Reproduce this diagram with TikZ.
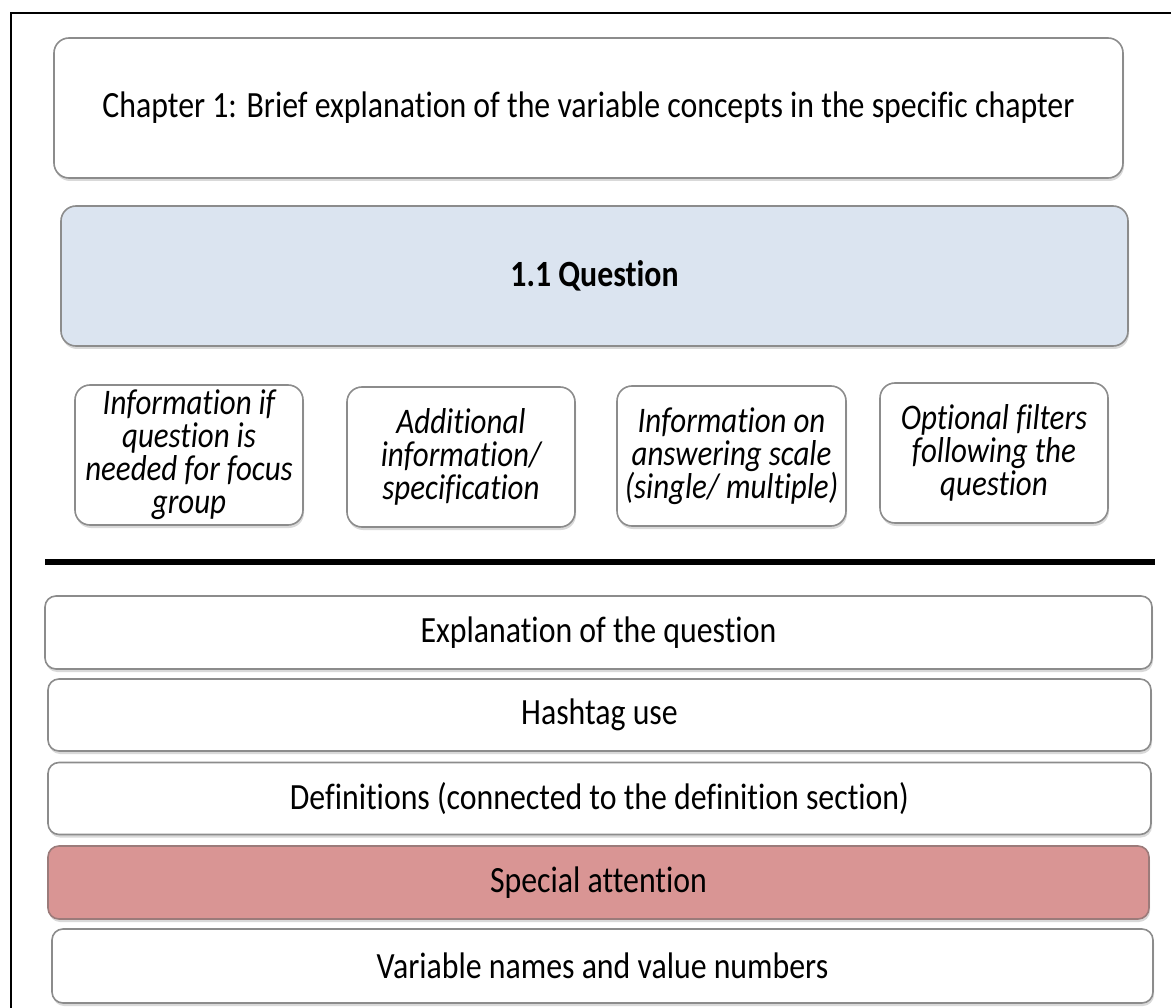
\documentclass[tikz,border=0pt]{standalone}
\usepackage{fontspec}
\setmainfont{Carlito}[Ligatures=NoCommon,FakeStretch=0.86]
\usetikzlibrary{shadows}
\definecolor{boxline}{RGB}{140,140,140}
\definecolor{qblue}{RGB}{219,228,240}
\definecolor{attred}{RGB}{217,149,148}
\begin{document}
\begin{tikzpicture}[x=1pt,y=-1pt,
  box/.style={draw=boxline,line width=1.6pt,fill=white,rounded corners=15pt,
    inner sep=0pt,align=center,font=\fontsize{37}{40}\selectfont,
    drop shadow={shadow xshift=1pt,shadow yshift=-3pt,opacity=.3}},
  infobox/.style={box,minimum width=228pt,minimum height=140pt,
    font=\fontsize{36}{33}\selectfont\itshape},
  bar/.style={box,rounded corners=11pt,minimum height=72pt}]
\useasboundingbox (0,0) rectangle (1171,1008);
\def\bw{1103}
% outer frame, only the left and top edges show
\draw[line width=1.2pt] (11,1008) |- (1171,13);
\coordinate (chap) at (588.5,108);
\coordinate (quest) at (594.5,276);
\coordinate (i1) at (189,455);
\coordinate (i2) at (461,457);
\coordinate (i3) at (731.5,456);
\coordinate (i4) at (994,453);
\coordinate (linel) at (45,562);
\coordinate (liner) at (1155,562);
\coordinate (b1) at (598.5,632.5);
\coordinate (b2) at (599.5,715);
\coordinate (b3) at (599.5,798.5);
\coordinate (b4) at (598.5,882.5);
\coordinate (b5) at (602.5,966);

\node[box,minimum width=1069pt,minimum height=140pt] (chapter) at (chap)
  {Chapter 1: Brief explanation of the variable concepts in the specific chapter};
\node[box,fill=qblue,minimum width=1067pt,minimum height=140pt] (question) at (quest)
  {\bfseries 1.1 Question};

\node[infobox] (info1) at (i1) {Information if\\question is\\needed for focus\\group};
\node[infobox] (info2) at (i2) {Additional\\information/\\specification};
\node[infobox,minimum width=229pt] (info3) at (i3) {Information on\\answering scale\\(single/ multiple)};
\node[infobox] (info4) at (i4) {Optional filters\\following the\\question};

\draw[line width=6pt] (linel) -- (liner);

\node[bar,minimum width=1107pt,minimum height=73pt] (explanation) at (b1) {Explanation of the question};
\node[bar,minimum width=\bw pt] (hashtag) at (b2) {Hashtag use};
\node[bar,minimum width=\bw pt] (definitions) at (b3) {Definitions (connected to the definition section)};
\node[bar,fill=attred,draw=attred!60!black!80,minimum width=1101pt,minimum height=73pt] (attention) at (b4) {Special attention};
\node[bar,minimum width=1101pt,minimum height=74pt] (varnames) at (b5) {Variable names and value numbers};
\end{tikzpicture}
\end{document}
